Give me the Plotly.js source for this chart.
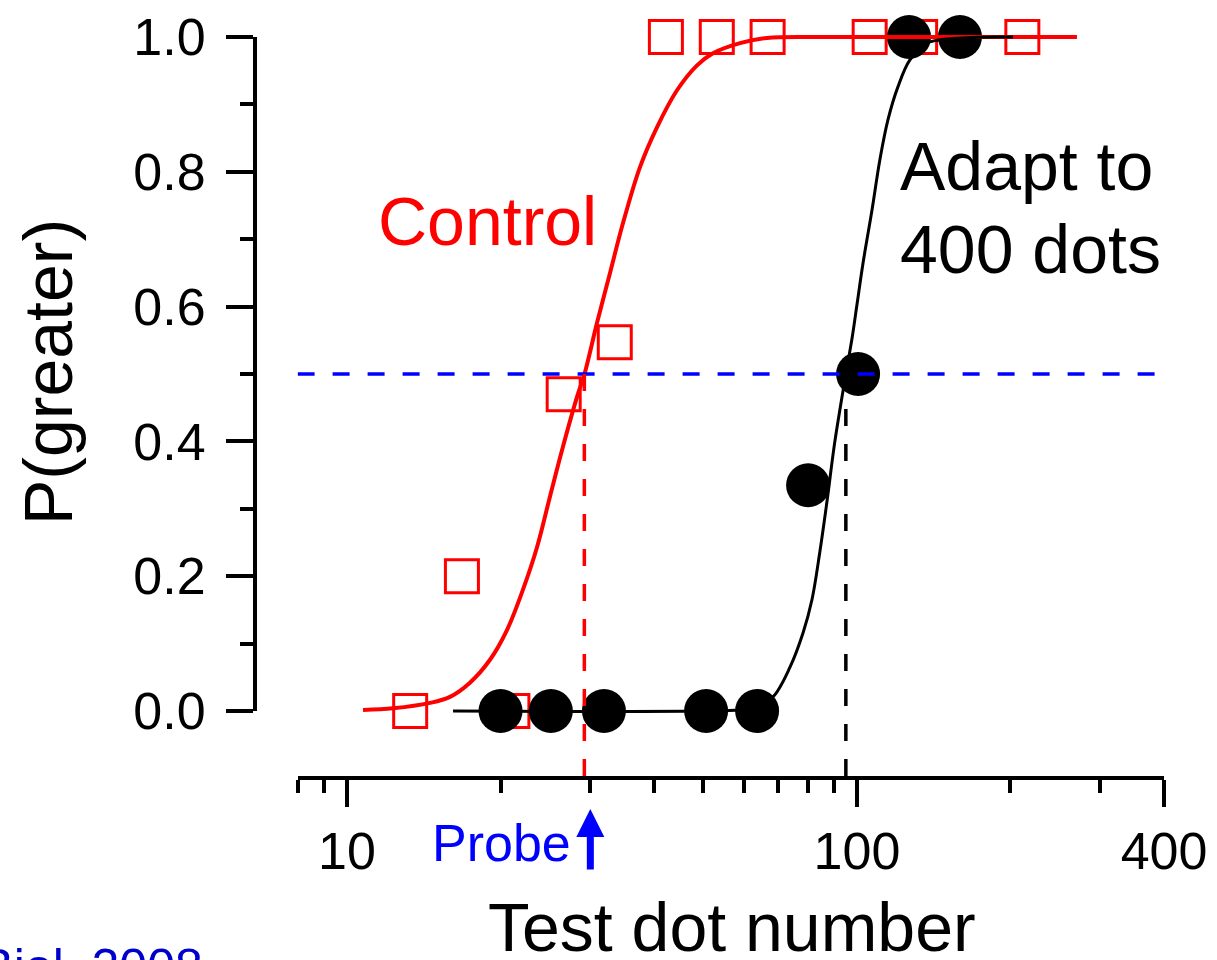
<!DOCTYPE html>
<html>
<head>
<meta charset="utf-8">
<script src="https://cdn.plot.ly/plotly-3.0.1.min.js"></script>
<style>html,body{margin:0;padding:0;background:#fff;}#chart{width:1217px;height:960px;}</style>
</head>
<body>
<div id="chart"></div>
<script>
// ---------- data ----------
const controlX = [13.3, 16.8, 21.1, 26.6, 33.5, 42.2, 53.1, 66.8, 105.9, 133, 211];
const controlY = [0.0, 0.2, 0.0, 0.47, 0.547, 1.0, 1.0, 1.0, 1.0, 1.0, 1.0];
const adaptX = [20, 25.1, 31.9, 50.6, 63.7, 80.2, 100.5, 126.5, 159.2];
const adaptY = [0.0, 0.0, 0.0, 0.0, 0.0, 0.335, 0.5, 1.0, 1.0];
// fitted curves
const controlFitX = [10.75, 12.31, 14.54, 15.92, 17.42, 19.07, 20.59, 22.13, 23.58, 25.0, 26.51, 28.25, 29.22, 30.92, 32.79, 34.77, 37.54, 40.53, 44.37, 48.57, 52.2, 58.97, 66.62, 84.6, 270];
const controlFitY = [0.0015, 0.004, 0.012, 0.021, 0.042, 0.076, 0.12, 0.18, 0.243, 0.318, 0.392, 0.466, 0.5, 0.576, 0.65, 0.724, 0.807, 0.866, 0.921, 0.958, 0.976, 0.991, 0.9985, 1.0, 1.0];
const adaptFitX = [16.14, 49.2, 58.97, 63.68, 68.43, 73.9, 78.4, 81.6, 84.6, 87.3, 90.5, 95.1, 97.8, 100, 102.8, 107.0, 110.9, 115.0, 120.3, 127.0, 137.2, 164.4, 202.3];
const adaptFitY = [0.0, 0.0, 0.002, 0.008, 0.021, 0.065, 0.116, 0.165, 0.237, 0.31, 0.40, 0.5, 0.553, 0.603, 0.665, 0.743, 0.818, 0.877, 0.926, 0.966, 0.991, 0.999, 1.0];
const pseControl = 29.2;
const pseAdapt = 95.1;
const criterion = 0.5;
const probeValue = 30;
const xTickVals = [10, 100, 400];
const xTickText = ['10', '100', '400'];
const xMinorVals = [8, 9, 20, 30, 40, 50, 60, 70, 80, 90, 200, 300];
const yTickVals = [0, 0.2, 0.4, 0.6, 0.8, 1.0];
const yTickText = ['0.0', '0.2', '0.4', '0.6', '0.8', '1.0'];
const yMinorVals = [0.1, 0.3, 0.5, 0.7, 0.9];
const xRange = [8, 400];

// ---------- layout geometry (pixels) ----------
const W = 1217, H = 960;
const mL = 255, mR = 53, mT = 20, mB = 182;
const pw = W - mL - mR, ph = H - mT - mB;
const xAxisLeftPx = 297.6;
const y0Px = 711, y1Px = 37;          // pixel rows of P=0 and P=1
const pxPerUnit = y0Px - y1Px;
const px2paperX = p => (p - mL) / pw;
const px2paperY = p => (H - mB - p) / ph;
const y2Min = -(H - mB - y0Px) / pxPerUnit;
const y2Max = 1 + (y1Px - mT) / pxPerUnit;

const FONT = 'Arial, "Liberation Sans", Helvetica, sans-serif';
const dash = '17px,18px';

const traces = [
  // dummy trace to hold the visible y axis
  {x: [], y: [], xaxis: 'x', yaxis: 'y', mode: 'markers', showlegend: false, hoverinfo: 'skip'},
  {x: controlX, y: controlY, xaxis: 'x', yaxis: 'y2', mode: 'markers', cliponaxis: false,
   marker: {symbol: 'square-open', size: 33, color: '#FF0000', line: {color: '#FF0000', width: 3}}},
  {x: adaptX, y: adaptY, xaxis: 'x', yaxis: 'y2', mode: 'markers', cliponaxis: false,
   marker: {symbol: 'circle', size: 44, color: '#000000', line: {width: 0}}},
  {x: controlFitX, y: controlFitY, xaxis: 'x', yaxis: 'y2', mode: 'lines',
   line: {color: '#FF0000', width: 4, shape: 'spline', smoothing: 1}},
  {x: adaptFitX, y: adaptFitY, xaxis: 'x', yaxis: 'y2', mode: 'lines',
   line: {color: '#000000', width: 3, shape: 'spline', smoothing: 1}},
  {x: xRange, y: [criterion, criterion], xaxis: 'x', yaxis: 'y2', mode: 'lines',
   line: {color: '#0000FF', width: 3.5, dash: dash}},
  {x: [pseControl, pseControl], y: [criterion, y2Min], xaxis: 'x', yaxis: 'y2', mode: 'lines',
   line: {color: '#FF0000', width: 3.5, dash: dash}},
  {x: [pseAdapt, pseAdapt], y: [criterion, y2Min], xaxis: 'x', yaxis: 'y2', mode: 'lines',
   line: {color: '#000000', width: 3.5, dash: dash}}
];

const layout = {
  width: W, height: H,
  margin: {l: mL, r: mR, t: mT, b: mB, pad: 0},
  paper_bgcolor: '#ffffff', plot_bgcolor: 'rgba(0,0,0,0)',
  showlegend: false,
  font: {family: FONT, color: '#000000', size: 52},
  xaxis: {
    type: 'log', range: [Math.log10(xRange[0]), Math.log10(xRange[1])],
    domain: [px2paperX(xAxisLeftPx), 1],
    anchor: 'free', position: 0,
    showline: true, linecolor: '#000', linewidth: 4,
    showgrid: false, zeroline: false,
    tickmode: 'array', tickvals: xTickVals, ticktext: xTickText,
    ticks: 'outside', ticklen: 27, tickwidth: 4, tickcolor: '#000',
    tickfont: {family: FONT, size: 52, color: '#000'},
    minor: {tickmode: 'array', tickvals: xMinorVals, ticks: 'outside', ticklen: 13, tickwidth: 4, tickcolor: '#000', showgrid: false}
  },
  yaxis: {
    range: [0, 1],
    domain: [px2paperY(y0Px), px2paperY(y1Px)],
    anchor: 'free', position: 0,
    showline: true, linecolor: '#000', linewidth: 4,
    showgrid: false, zeroline: false,
    tickmode: 'array', tickvals: yTickVals, ticktext: yTickText,
    ticks: 'outside', ticklen: 27, tickwidth: 4, tickcolor: '#000',
    ticklabelstandoff: 10,
    tickfont: {family: FONT, size: 52, color: '#000'},
    minor: {tickmode: 'array', tickvals: yMinorVals, ticks: 'outside', ticklen: 13, tickwidth: 4, tickcolor: '#000', showgrid: false}
  },
  yaxis2: {
    range: [y2Min, y2Max], domain: [0, 1], anchor: 'x',
    visible: false, showgrid: false, zeroline: false, showline: false, showticklabels: false
  },
  annotations: [
    {text: 'P(greater)', xref: 'paper', yref: 'paper', x: px2paperX(48), y: px2paperY(372),
     textangle: -90, showarrow: false, xanchor: 'center', yanchor: 'middle',
     font: {family: FONT, size: 68, color: '#000'}},
    {text: 'Test dot number', xref: 'paper', yref: 'paper', x: px2paperX(732), y: px2paperY(927),
     showarrow: false, xanchor: 'center', yanchor: 'middle',
     font: {family: FONT, size: 68, color: '#000'}},
    {text: 'Control', xref: 'paper', yref: 'paper', x: px2paperX(487), y: px2paperY(221),
     showarrow: false, xanchor: 'center', yanchor: 'middle',
     font: {family: FONT, size: 68, color: '#FF0000'}},
    {text: 'Adapt to', xref: 'paper', yref: 'paper', x: px2paperX(898), y: px2paperY(166),
     showarrow: false, xanchor: 'left', yanchor: 'middle',
     font: {family: FONT, size: 68, color: '#000'}},
    {text: '400 dots', xref: 'paper', yref: 'paper', x: px2paperX(898), y: px2paperY(249),
     showarrow: false, xanchor: 'left', yanchor: 'middle',
     font: {family: FONT, size: 68, color: '#000'}},
    {text: 'Probe', xref: 'paper', yref: 'paper', x: px2paperX(430), y: px2paperY(843),
     showarrow: false, xanchor: 'left', yanchor: 'middle',
     font: {family: FONT, size: 52, color: '#0000FF'}},
    {text: '', xref: 'x', yref: 'paper', x: Math.log10(probeValue), y: px2paperY(809),
     showarrow: true, ax: 0, ay: 62, axref: 'pixel', ayref: 'pixel',
     arrowhead: 2, arrowsize: 0.8, arrowwidth: 7, arrowcolor: '#0000FF', standoff: 0, startstandoff: 0},
    {text: 'Burr & Ross, Curr Biol, 2008', xref: 'paper', yref: 'paper', x: px2paperX(205), y: px2paperY(967),
     showarrow: false, xanchor: 'right', yanchor: 'middle',
     font: {family: FONT, size: 50, color: '#0000CC'}}
  ]
};

Plotly.newPlot('chart', traces, layout, {displayModeBar: false, staticPlot: true});
</script>
</body>
</html>
